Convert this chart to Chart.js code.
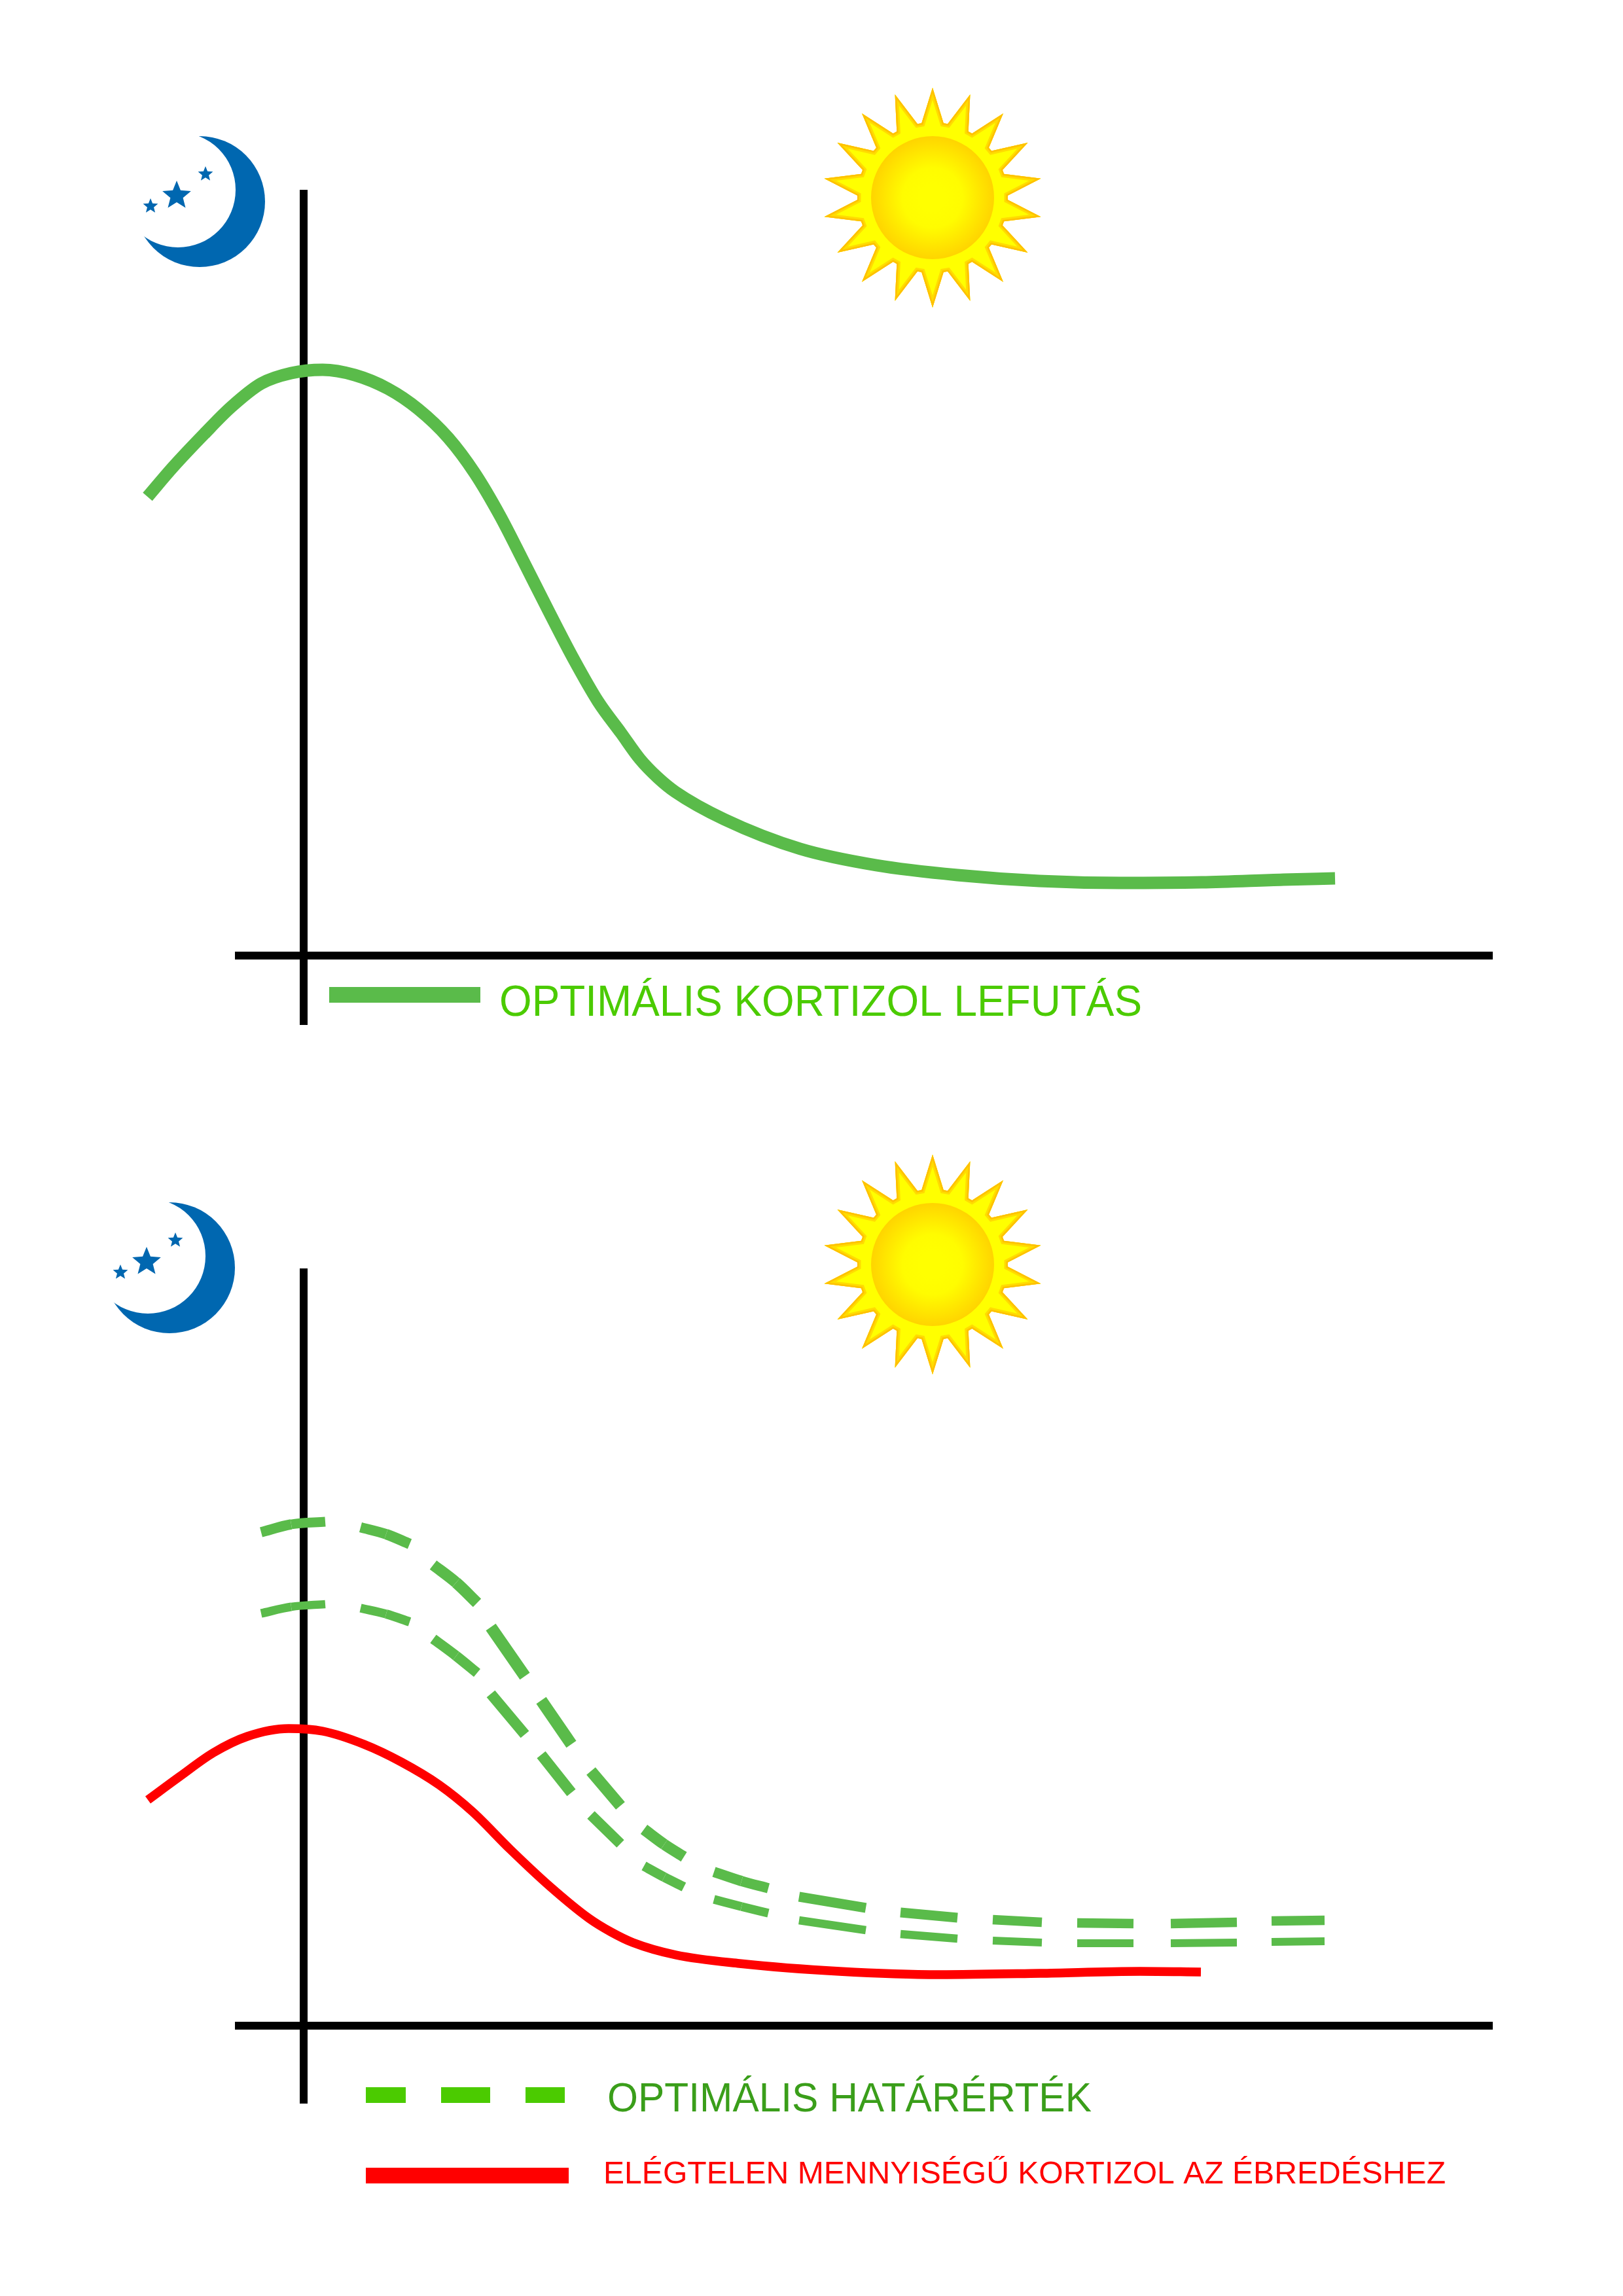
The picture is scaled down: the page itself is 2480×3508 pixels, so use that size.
<!DOCTYPE html>
<html lang="hu">
<head>
<meta charset="utf-8">
<title>Kortizol lefutás</title>
<script src="https://cdn.jsdelivr.net/npm/chart.js@4"></script>
<style>
html,body{margin:0;padding:0;background:#fff;}
#wrap{position:relative;width:2480px;height:3508px;background:#fff;overflow:hidden;}
canvas{position:absolute;left:0;display:block;}
</style>
</head>
<body>
<div id="wrap">
<canvas id="top" width="2480" height="1754" style="top:0"></canvas>
<canvas id="bottom" width="2480" height="1754" style="top:1754px"></canvas>
</div>
<script>
// Optimal cortisol curve (upper chart)
const optimalX = [-23.85,-20,-15.2,-11.1,-6.5,-1.9,2.9,7.8,12.9,17.5,22.1,26.15,30,33.55,37.4,41.2,45,48.5,51.4,54.1,56.8,64.3,75.9,87.5,99.9,112.4,124.8,137.2,149.7,157.6];
const optimalY = [70.1,74.6,79.7,83.8,87.4,89.0,89.5,88.7,86.6,83.5,79.1,73.7,67.2,60.3,52.7,45.4,38.8,34.0,30.0,27.2,25.0,20.8,16.3,13.8,12.3,11.4,11.1,11.2,11.6,11.8];

// Optimal limits (lower chart): null marks a gap between two dashes
const limitX = [-6.5,-1.9,3.3,6,8.7,12.6,16.2,18,19.8,23.3,26.5,27.6,28.6,33.8,35,36.3,40.9,42.4,43.9,48.4,50.2,52,55.1,58.1,60.4,62.7,66.9,71,73.3,75.7,85.9,88.5,91.2,99.9,102.6,105.3,112.8,115.5,118.2,126.8,129.6,132.5,142.6,145.2,147.9,156];
const upperLimit = [75.4,76.6,77,null,76.15,75.1,73.6,null,70.4,67.7,64.6,null,60.9,53.4,null,49.7,43,null,38.9,33.6,null,30,27.7,25.8,null,23.5,22.1,21,null,19.7,18,null,17.3,16.5,null,16.2,15.8,null,15.7,15.6,null,15.6,15.8,null,16,16.1];
const lowerLimit = [63,64,64.4,null,63.8,62.9,61.7,null,59.1,56.5,53.9,null,50.7,44.5,null,41.4,35.6,null,32.2,27.8,null,24.4,22.7,21.2,null,19.3,18.2,17.2,null,16.1,14.6,null,14,13.3,null,13,12.7,null,12.6,12.6,null,12.6,12.7,null,12.8,12.9];

// Insufficient cortisol curve (lower chart)
const lowX = [-23.8,-18.9,-13.8,-8.6,-2.3,2.9,9.2,14.9,20.7,25.8,31.6,37.6,43.6,47,50.3,56.9,66.6,81.9,97.2,112.5,127.8,137.1];
const lowY = [34.5,38.1,41.7,44.2,45.4,45,43,40.3,36.8,32.7,26.9,21.3,16.4,14.3,12.7,10.8,9.5,8.3,7.8,8,8.3,8.2];

const legendTop = ['OPTIMÁLIS KORTIZOL LEFUTÁS'];
const legendBottom = ['OPTIMÁLIS HATÁRÉRTÉK','ELÉGTELEN MENNYISÉGŰ KORTIZOL AZ ÉBREDÉSHEZ'];

const GREEN = '#5ABB4A', LEGEND_GREEN = '#4BCB00', DARK_GREEN = '#3A9E1A', RED = '#FF0000', BLUE = '#0067B0';
const FONT = '"Liberation Sans", Arial, sans-serif';

const toPoints = (xs, ys) => xs.map((x, i) => ({x, y: ys[i]}));

function star(ctx, cx, cy, r) {
  ctx.beginPath();
  for (let i = 0; i < 10; i++) {
    const a = -Math.PI / 2 + i * Math.PI / 5, q = i % 2 ? r * 0.44 : r;
    ctx.lineTo(cx + q * Math.cos(a), cy + q * Math.sin(a));
  }
  ctx.closePath();
  ctx.fill();
}
function moon(ctx, dx, dy) {
  ctx.save();
  ctx.translate(dx, dy);
  ctx.fillStyle = BLUE;
  ctx.save();
  ctx.beginPath();
  ctx.rect(190, 190, 240, 240);
  ctx.arc(272, 290, 88, 0, Math.PI * 2);
  ctx.clip('evenodd');
  ctx.beginPath();
  ctx.arc(305, 308, 100, 0, Math.PI * 2);
  ctx.fill();
  ctx.restore();
  star(ctx, 270, 299, 23);
  star(ctx, 314, 266, 12);
  star(ctx, 230, 315, 12);
  ctx.restore();
}
function sun(ctx, cx, cy) {
  ctx.save();
  ctx.translate(cx, cy);
  ctx.beginPath();
  for (let k = 0; k < 18; k++) {
    const t = (k * 20 - 90) * Math.PI / 180;
    ctx.lineTo(168 * Math.cos(t), 168 * Math.sin(t));
    const v1 = t + 8.4 * Math.PI / 180, v2 = t + 11.6 * Math.PI / 180;
    ctx.lineTo(115 * Math.cos(v1), 115 * Math.sin(v1));
    ctx.lineTo(115 * Math.cos(v2), 115 * Math.sin(v2));
  }
  ctx.closePath();
  ctx.fillStyle = '#FFFF00';
  ctx.fill();
  ctx.save();
  ctx.clip();
  ctx.lineJoin = 'miter';
  ctx.strokeStyle = '#FFDC00'; ctx.lineWidth = 11; ctx.stroke();
  ctx.strokeStyle = '#FFC000'; ctx.lineWidth = 5; ctx.stroke();
  ctx.restore();
  const g = ctx.createRadialGradient(0, 0, 20, 0, 0, 94);
  g.addColorStop(0, '#FFFF00');
  g.addColorStop(0.35, '#FFFC00');
  g.addColorStop(1, '#FFD400');
  ctx.fillStyle = g;
  ctx.beginPath();
  ctx.arc(0, 0, 94, 0, Math.PI * 2);
  ctx.fill();
  ctx.restore();
}
function label(ctx, text, x, base, size, color, width) {
  ctx.save();
  ctx.font = size + 'px ' + FONT;
  ctx.fillStyle = color;
  ctx.textAlign = 'left';
  ctx.textBaseline = 'alphabetic';
  const w = ctx.measureText(text).width;
  ctx.translate(x, base);
  ctx.scale(width / w, 1);
  ctx.fillText(text, 0, 0);
  ctx.restore();
}
const topDecor = {
  id: 'topDecor',
  afterDraw(c) {
    const ctx = c.ctx;
    moon(ctx, 0, 0);
    sun(ctx, 1425, 302);
    ctx.fillStyle = GREEN;
    ctx.fillRect(503, 1508, 231, 24);
    label(ctx, legendTop[0], 763, 1552, 67, LEGEND_GREEN, 982);
  }
};
const bottomDecor = {
  id: 'bottomDecor',
  afterDraw(c) {
    const ctx = c.ctx, o = -1754;
    moon(ctx, -46, 1629 + o);
    sun(ctx, 1425, 302 + 1630 + o);
    ctx.fillStyle = LEGEND_GREEN;
    ctx.fillRect(559, 3189 + o, 61, 24);
    ctx.fillRect(674, 3189 + o, 75, 24);
    ctx.fillRect(803, 3189 + o, 60, 24);
    label(ctx, legendBottom[0], 928, 3226 + o, 63, DARK_GREEN, 740);
    ctx.fillStyle = RED;
    ctx.fillRect(559, 3312 + o, 310, 24);
    label(ctx, legendBottom[1], 922, 3336 + o, 49, RED, 1287);
  }
};

function axes(xMin, xMax, yMin, yMax) {
  return {
    x: {
      type: 'linear', bounds: 'data', position: {y: 0},
      afterDataLimits(s) { s.min = xMin; s.max = xMax; },
      grid: {display: false}, ticks: {display: false},
      border: {display: true, color: '#000', width: 12}
    },
    y: {
      type: 'linear', min: yMin, max: yMax, position: {x: 0},
      grid: {display: false}, ticks: {display: false},
      border: {display: true, color: '#000', width: 12}
    }
  };
}
const common = {
  responsive: false, animation: false, devicePixelRatio: 1,
  plugins: {legend: {display: false}, tooltip: {enabled: false}, title: {display: false}},
  elements: {point: {radius: 0, hoverRadius: 0}, line: {cubicInterpolationMode: 'monotone', capBezierPoints: false, borderCapStyle: 'butt', borderJoinStyle: 'round', fill: false}}
};
// the source artwork is stretched sideways, so steep stretches of a stroke are thicker
const penWidth = (flat, extra) => ctx => {
  const dx = ctx.p1.x - ctx.p0.x, dy = ctx.p1.y - ctx.p0.y;
  return flat + extra * Math.abs(dy) / (Math.hypot(dx, dy) || 1);
};

new Chart(document.getElementById('top'), {
  type: 'line',
  data: {datasets: [
    {label: 'Optimális kortizol lefutás', data: toPoints(optimalX, optimalY), borderColor: GREEN, borderWidth: 19, clip: false}
  ]},
  options: Object.assign({}, common, {
    layout: {padding: {left: 365, right: 200, top: 296, bottom: 189}},
    scales: axes(-9.9, 181.6, -10.5, 116.4)
  }),
  plugins: [topDecor]
});

new Chart(document.getElementById('bottom'), {
  type: 'line',
  data: {datasets: [
    {label: 'Felső határérték', data: toPoints(limitX, upperLimit), borderColor: GREEN, borderWidth: 15, segment: {borderWidth: penWidth(14.5, 4.6)}, spanGaps: false, clip: false},
    {label: 'Alsó határérték', data: toPoints(limitX, lowerLimit), borderColor: GREEN, borderWidth: 12, segment: {borderWidth: penWidth(12, 6)}, spanGaps: false, clip: false},
    {label: 'Elégtelen mennyiségű kortizol', data: toPoints(lowX, lowY), borderColor: RED, borderWidth: 13.5, clip: false}
  ]},
  options: Object.assign({}, common, {
    layout: {padding: {left: 365, right: 200, top: 190, bottom: 295}},
    scales: axes(-9.9, 181.6, -11.8, 115.1)
  }),
  plugins: [bottomDecor]
});
</script>
</body>
</html>
